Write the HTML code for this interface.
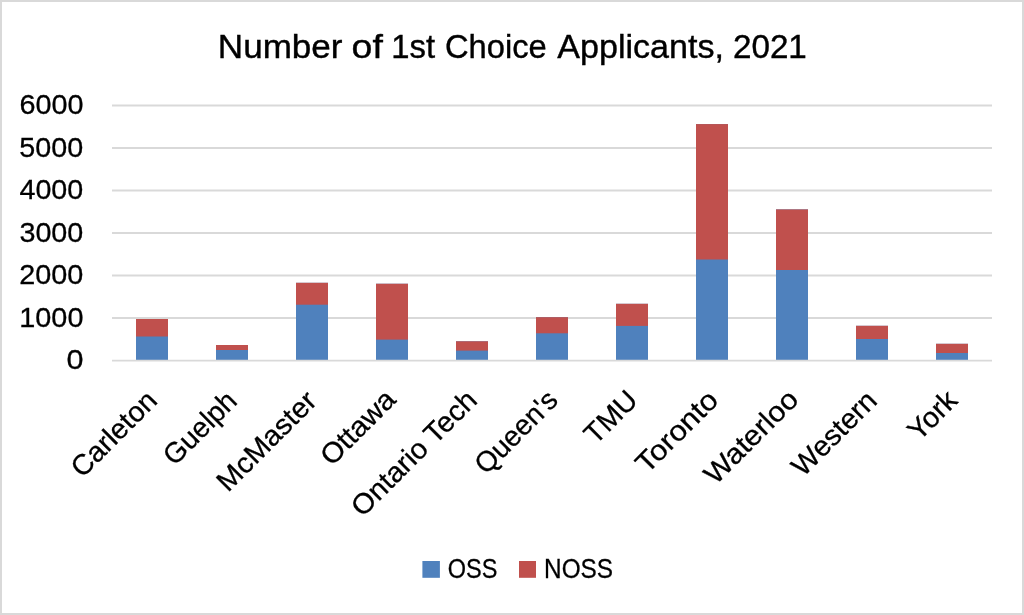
<!DOCTYPE html><html><head><meta charset="utf-8"><style>html,body{margin:0;padding:0;background:#fff;}svg{display:block;will-change:transform;}text{font-family:"Liberation Sans",sans-serif;fill:#000;stroke:#000;stroke-width:0.3px;}text.t{stroke-width:0.4px;}</style></head><body>
<svg width="1024" height="615" viewBox="0 0 1024 615">
<rect x="0" y="0" width="1024" height="615" fill="#fff"/>
<rect x="1" y="1" width="1022" height="613" fill="none" stroke="#D9D9D9" stroke-width="2"/>
<line x1="112" y1="105.50" x2="992" y2="105.50" stroke="#D9D9D9" stroke-width="1.8"/>
<line x1="112" y1="148.00" x2="992" y2="148.00" stroke="#D9D9D9" stroke-width="1.8"/>
<line x1="112" y1="190.50" x2="992" y2="190.50" stroke="#D9D9D9" stroke-width="1.8"/>
<line x1="112" y1="233.00" x2="992" y2="233.00" stroke="#D9D9D9" stroke-width="1.8"/>
<line x1="112" y1="275.50" x2="992" y2="275.50" stroke="#D9D9D9" stroke-width="1.8"/>
<line x1="112" y1="318.00" x2="992" y2="318.00" stroke="#D9D9D9" stroke-width="1.8"/>
<rect x="136" y="319.0" width="32" height="41.00" fill="#4F81BD"/>
<rect x="136" y="319.0" width="32" height="17.50" fill="#C0504D"/>
<rect x="216" y="345.0" width="32" height="15.00" fill="#4F81BD"/>
<rect x="216" y="345.0" width="32" height="5.00" fill="#C0504D"/>
<rect x="296" y="282.8" width="32" height="77.20" fill="#4F81BD"/>
<rect x="296" y="282.8" width="32" height="21.90" fill="#C0504D"/>
<rect x="376" y="283.75" width="32" height="76.25" fill="#4F81BD"/>
<rect x="376" y="283.75" width="32" height="55.85" fill="#C0504D"/>
<rect x="456" y="341.3" width="32" height="18.70" fill="#4F81BD"/>
<rect x="456" y="341.3" width="32" height="9.30" fill="#C0504D"/>
<rect x="536" y="317.2" width="32" height="42.80" fill="#4F81BD"/>
<rect x="536" y="317.2" width="32" height="16.10" fill="#C0504D"/>
<rect x="616" y="303.8" width="32" height="56.20" fill="#4F81BD"/>
<rect x="616" y="303.8" width="32" height="22.10" fill="#C0504D"/>
<rect x="696" y="124.1" width="32" height="235.90" fill="#4F81BD"/>
<rect x="696" y="124.1" width="32" height="135.40" fill="#C0504D"/>
<rect x="776" y="209.4" width="32" height="150.60" fill="#4F81BD"/>
<rect x="776" y="209.4" width="32" height="60.60" fill="#C0504D"/>
<rect x="856" y="325.8" width="32" height="34.20" fill="#4F81BD"/>
<rect x="856" y="325.8" width="32" height="13.20" fill="#C0504D"/>
<rect x="936" y="343.8" width="32" height="16.20" fill="#4F81BD"/>
<rect x="936" y="343.8" width="32" height="9.20" fill="#C0504D"/>
<line x1="112" y1="360.6" x2="992" y2="360.6" stroke="#D9D9D9" stroke-width="1.8"/>
<text class="t" x="217.83" y="57.90" font-size="34" textLength="124.66" lengthAdjust="spacingAndGlyphs">Number</text>
<text class="t" x="351.63" y="57.90" font-size="34" textLength="31.23" lengthAdjust="spacingAndGlyphs">of</text>
<text class="t" x="391.26" y="57.90" font-size="34" textLength="43.77" lengthAdjust="spacingAndGlyphs">1st</text>
<text class="t" x="445.03" y="57.90" font-size="34" textLength="101.70" lengthAdjust="spacingAndGlyphs">Choice</text>
<text class="t" x="557.33" y="57.90" font-size="34" textLength="166.62" lengthAdjust="spacingAndGlyphs">Applicants,</text>
<text class="t" x="732.94" y="57.90" font-size="34" textLength="73.91" lengthAdjust="spacingAndGlyphs">2021</text>
<text class="y" x="19.43" y="114.30" font-size="28.4" textLength="64.01" lengthAdjust="spacingAndGlyphs">6000</text>
<text class="y" x="19.35" y="156.80" font-size="28.4" textLength="63.89" lengthAdjust="spacingAndGlyphs">5000</text>
<text class="y" x="19.44" y="199.30" font-size="28.4" textLength="63.80" lengthAdjust="spacingAndGlyphs">4000</text>
<text class="y" x="19.41" y="241.80" font-size="28.4" textLength="63.93" lengthAdjust="spacingAndGlyphs">3000</text>
<text class="y" x="19.26" y="284.30" font-size="28.4" textLength="64.08" lengthAdjust="spacingAndGlyphs">2000</text>
<text class="y" x="19.31" y="326.80" font-size="28.4" textLength="64.13" lengthAdjust="spacingAndGlyphs">1000</text>
<text class="y" x="66.51" y="369.30" font-size="28.4" textLength="16.99" lengthAdjust="spacingAndGlyphs">0</text>
<text class="xl" transform="translate(158.70,402.30) rotate(-45)" font-size="28.4" text-anchor="end" textLength="108.11" lengthAdjust="spacingAndGlyphs">Carleton</text>
<text class="xl" transform="translate(238.65,402.60) rotate(-45)" font-size="28.4" text-anchor="end" textLength="90.63" lengthAdjust="spacingAndGlyphs">Guelph</text>
<text class="xl" transform="translate(318.35,402.60) rotate(-45)" font-size="28.4" text-anchor="end" textLength="127.80" lengthAdjust="spacingAndGlyphs">McMaster</text>
<text class="xl" transform="translate(397.40,401.25) rotate(-45)" font-size="28.4" text-anchor="end" textLength="92.95" lengthAdjust="spacingAndGlyphs">Ottawa</text>
<text class="xl" transform="translate(478.65,401.85) rotate(-45)" font-size="28.4" text-anchor="end" textLength="164.18" lengthAdjust="spacingAndGlyphs">Ontario Tech</text>
<text class="xl" transform="translate(559.55,401.90) rotate(-45)" font-size="28.4" text-anchor="end" textLength="104.13" lengthAdjust="spacingAndGlyphs">Queen's</text>
<text class="xl" transform="translate(639.25,401.85) rotate(-45)" font-size="28.4" text-anchor="end" textLength="61.77" lengthAdjust="spacingAndGlyphs">TMU</text>
<text class="xl" transform="translate(719.95,401.75) rotate(-45)" font-size="28.4" text-anchor="end" textLength="103.20" lengthAdjust="spacingAndGlyphs">Toronto</text>
<text class="xl" transform="translate(800.05,401.20) rotate(-45)" font-size="28.4" text-anchor="end" textLength="119.60" lengthAdjust="spacingAndGlyphs">Waterloo</text>
<text class="xl" transform="translate(878.65,402.30) rotate(-45)" font-size="28.4" text-anchor="end" textLength="106.88" lengthAdjust="spacingAndGlyphs">Western</text>
<text class="xl" transform="translate(958.95,402.20) rotate(-45)" font-size="28.4" text-anchor="end" textLength="56.43" lengthAdjust="spacingAndGlyphs">York</text>
<rect x="422.4" y="561" width="17.5" height="16.8" fill="#4F81BD"/>
<rect x="519" y="561" width="17" height="16.8" fill="#C0504D"/>
<text class="l" x="447.80" y="578.40" font-size="28.4" textLength="49.58" lengthAdjust="spacingAndGlyphs">OSS</text>
<text class="l" x="544.10" y="578.40" font-size="28.4" textLength="69.02" lengthAdjust="spacingAndGlyphs">NOSS</text>
</svg></body></html>
